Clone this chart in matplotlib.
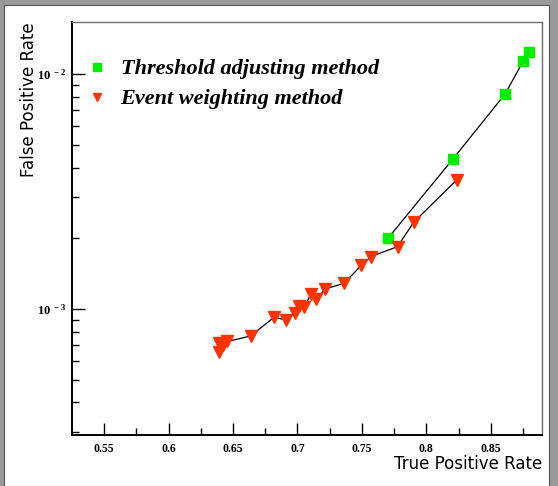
import matplotlib
matplotlib.use("Agg")
import matplotlib.pyplot as plt
from matplotlib.patches import Rectangle
from matplotlib.ticker import FixedLocator, NullFormatter

# Data
thr_tpr = [0.8797, 0.8753, 0.8611, 0.8205, 0.7706]
thr_fpr = [0.01236, 0.01139, 0.00822, 0.00434, 0.00201]

evt_tpr = [0.8236, 0.7901, 0.7777, 0.7569, 0.7496, 0.7362, 0.7215, 0.7145, 0.7104,
           0.7052, 0.7013, 0.6982, 0.6909, 0.6819, 0.6637, 0.6457, 0.6424, 0.6389, 0.6393]
evt_fpr = [0.003544, 0.002336, 0.001842, 0.001670, 0.001535, 0.001286, 0.001216, 0.001100,
           0.001155, 0.001017, 0.001030, 0.000964, 0.000898, 0.000922, 0.000767, 0.000727,
           0.000702, 0.000719, 0.000653]

xticks = [0.55, 0.6, 0.65, 0.7, 0.75, 0.8, 0.85]
xtick_labels = ["0.55", "0.6", "0.65", "0.7", "0.75", "0.8", "0.85"]
yticks = [1e-3, 1e-2]
ytick_labels = [r"$\mathbf{10^{\;\,-3}}$", r"$\mathbf{10^{\;\,-2}}$"]

plt.rcParams['mathtext.fontset'] = 'custom'
plt.rcParams['mathtext.rm'] = 'Liberation Serif:bold'
plt.rcParams['mathtext.bf'] = 'Liberation Serif:bold'
plt.rcParams['mathtext.it'] = 'Liberation Serif:bold:italic'

W, H = 558, 486
fig = plt.figure(figsize=(W / 100, H / 100), dpi=100)
fig.patch.set_facecolor('#9a9a9a')
# white canvas area
fig.patches.append(Rectangle((4 / W, 0), (549 - 4) / W, (H - 5) / H, transform=fig.transFigure,
                             facecolor='white', edgecolor='#555555', linewidth=0.8, zorder=-10))

ax = fig.add_axes([71.9 / W, 1 - 434.5 / H, (542.3 - 71.9) / W, (434.5 - 22.4) / H])
ax.set_facecolor('white')
ax.set_yscale('log')
ax.set_xlim(0.525, 0.89)
ax.set_ylim(2.92e-4, 1.66e-2)

green = '#00ee00'
red = '#ff3300'
ax.plot(thr_tpr, thr_fpr, color='black', lw=0.9, marker='s', ms=7.5, mfc=green, mec=green,
        label='Threshold adjusting method')
ax.plot(evt_tpr, evt_fpr, color='black', lw=0.9, marker='v', ms=8, mfc=red, mec=red,
        label='Event weighting method')

ax.xaxis.set_major_locator(FixedLocator(xticks))
ax.set_xticklabels(xtick_labels)
ax.xaxis.set_minor_locator(FixedLocator([0.575, 0.625, 0.675, 0.725, 0.775, 0.825, 0.875]))
ax.yaxis.set_major_locator(FixedLocator(yticks))
ax.set_yticklabels(ytick_labels)
minors = [m * 10.0 ** e for e in (-4, -3, -2) for m in range(2, 10)]
ax.yaxis.set_minor_locator(FixedLocator(minors))
ax.yaxis.set_minor_formatter(NullFormatter())

ax.tick_params(which='both', direction='in', top=False, right=False, width=1, color='black')
ax.tick_params(which='major', length=9)
ax.tick_params(which='minor', length=5)
ax.tick_params(axis='x', labelsize=8.5, pad=6)
ax.tick_params(axis='y', labelsize=9, pad=4)
for lab in ax.get_xticklabels():
    lab.set_fontfamily('Liberation Serif')
    lab.set_fontweight('bold')

for s in ('left', 'bottom'):
    ax.spines[s].set_color('black')
    ax.spines[s].set_linewidth(1.4)
for s in ('top', 'right'):
    ax.spines[s].set_color('#707070')
    ax.spines[s].set_linewidth(1.0)

ax.set_xlabel('True Positive Rate', fontsize=12, family='DejaVu Sans', ha='right')
ax.xaxis.set_label_coords(1.0, -0.05)
ax.set_ylabel('False Positive Rate', fontsize=12, family='DejaVu Sans', ha='right')
ax.yaxis.set_label_coords(-0.072, 1.0)

leg = ax.legend(loc='upper left', bbox_to_anchor=(0.035, 0.933), frameon=False,
                prop={'family': 'Liberation Serif', 'weight': 'bold', 'style': 'italic', 'size': 16},
                handlelength=0.0, handletextpad=1.05, markerscale=0.75, labelspacing=0.42,
                borderaxespad=0)
for h in leg.legend_handles:
    h.set_linestyle('none')

fig.savefig('out.png', dpi=100, facecolor=fig.get_facecolor())
